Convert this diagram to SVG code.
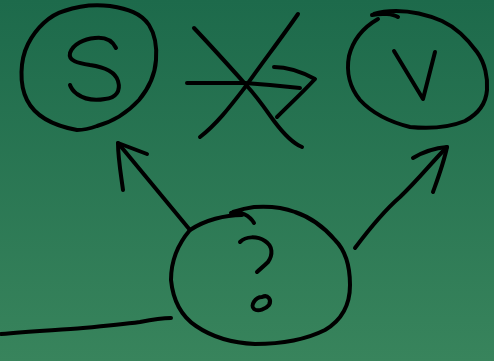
<svg xmlns="http://www.w3.org/2000/svg" width="494" height="361" viewBox="0 0 494 361">
<defs>
<linearGradient id="bg" x1="0" y1="0" x2="0" y2="1">
<stop offset="0" stop-color="#1d6a4b"/>
<stop offset="1" stop-color="#38845c"/>
</linearGradient>
<style>
.ink{fill:none;stroke:#000;stroke-width:4;stroke-linecap:round;stroke-linejoin:round}
</style>
</defs>
<rect width="494" height="361" fill="url(#bg)"/>
<g id="node-S">
<path class="ink" d="M77,130 C55,126 36,118 27,100 C19,84 20,60 28,44 C36,28 50,15 64,11 C78,6 95,4 110,6 C128,9 141,13 149,25 C156,36 157,47 156,60 C155,75 149,88 139,100 C128,112 115,121 97,126 C89,129 82,130 77,130 Z"/>
<path class="ink" d="M116,48 C112,40 104,37 95,38 C84,39 73,44 70,53 C68,61 78,63 90,65 C104,67 115,71 118,81 C121,91 116,98 105,99 C94,101 84,99 77,94 C73,91 71,88 70,85"/>
</g>
<g id="node-V">
<path class="ink" d="M372,15 C382,13 393,14 398,17 M378,19 C364,27 353,40 349,56 C346,72 350,88 360,100 C372,113 390,122 410,127 C430,129 450,127 465,121 C478,114 486,103 487,90 C488,78 485,63 477,52 C469,41 457,28 442,21 C428,15 412,11 396,11 C388,11 380,12 374,14"/>
<path class="ink" d="M394,51 L423,99 L435,52"/>
</g>
<g id="node-Q">
<path class="ink" d="M231,213 C240,210 250,216 254,223 M242,215 C225,215 205,220 190,230 C178,244 171,260 171,280 C173,300 181,316 196,326 C212,337 232,343 255,344 C280,344 305,340 325,330 C342,320 350,304 350,285 C350,265 345,250 335,240 C323,226 310,217 295,212 C282,207 268,206 254,207 C246,208 239,210 233,212"/>
<path class="ink" d="M240,242 C246,236 257,236 265,241 C273,246 273,255 268,262 C264,266 259,270 257,272"/>
<path class="ink" d="M262,297 C268,294 272,300 269,305 C266,309 258,312 254,309 C250,306 255,297 262,297 Z"/>
</g>
<g id="connectors">
<path class="ink" d="M190,230 L118,143"/>
<path class="ink" d="M123,190 C121,175 118,158 118,143 L147,154"/>
<path class="ink" d="M355,248 C370,228 385,210 400,197 C418,180 432,162 447,147"/>
<path class="ink" d="M413,158 C423,152 435,148 447,147 C444,162 438,178 433,192"/>
<path class="ink" d="M187,83 L245,83 L270,85 L300,88"/>
<path class="ink" d="M274,67 C288,67 302,72 315,79 C303,92 290,104 277,117"/>
<path class="ink" d="M194,28 C212,47 230,67 247,86 C258,98 266,110 274,121 C283,133 292,143 302,147"/>
<path class="ink" d="M298,14 C280,40 262,63 246,86 C232,104 218,123 200,137"/>
<path class="ink" d="M1,334 C30,331 60,330 83,328 C105,326 125,324 140,322 C150,320 160,318 171,318"/>
</g>
</svg>
